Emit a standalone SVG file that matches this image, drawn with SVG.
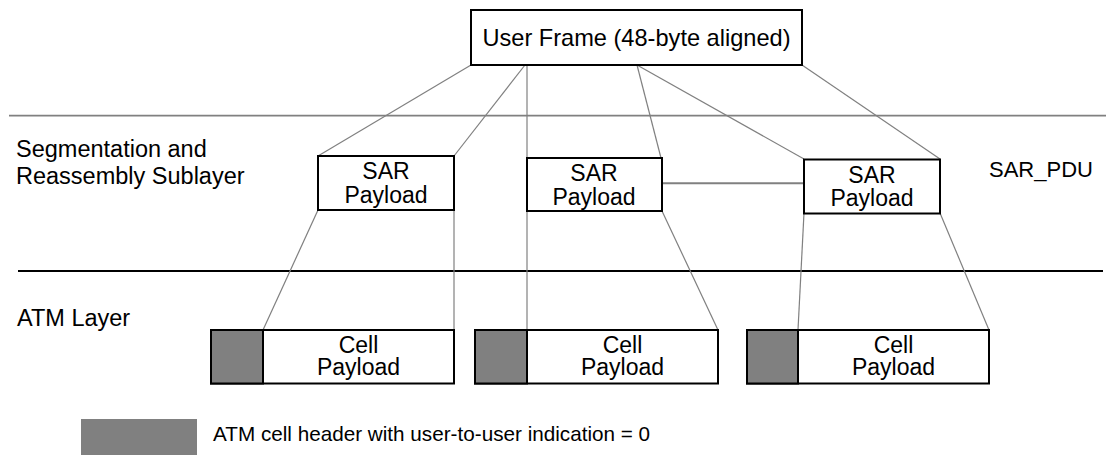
<svg xmlns="http://www.w3.org/2000/svg" width="1116" height="461" viewBox="0 0 1116 461">
<style>
text{font-family:"Liberation Sans",Arial,sans-serif;fill:#000;}
.lbl{font-size:23px;text-anchor:middle;}
.side{font-size:23.5px;}
.box{fill:#fff;stroke:#000;stroke-width:2;}
.hdr{fill:#808080;stroke:#000;stroke-width:2;}
.conn line{stroke:#808080;stroke-width:1.2;fill:none;}
</style>
<rect width="1116" height="461" fill="#fff"/>
<g id="layers">
<line x1="9" y1="115.7" x2="1106" y2="115.7" stroke="#808080" stroke-width="1.8"/>
<line x1="18" y1="271" x2="1103" y2="271" stroke="#000" stroke-width="2"/>
</g>
<g id="labels">
<text class="side" x="16" y="157">Segmentation and</text>
<text class="side" x="16" y="184">Reassembly Sublayer</text>
<text class="side" x="17" y="326">ATM Layer</text>
<text class="side" x="989" y="177" style="font-size:22px">SAR_PDU</text>
</g>
<g class="conn" id="connectors">
<line x1="471" y1="65" x2="318" y2="156"/>
<line x1="525" y1="65" x2="454" y2="156"/>
<line x1="527" y1="65" x2="527" y2="330"/>
<line x1="637" y1="65" x2="661" y2="158"/>
<line x1="637" y1="65" x2="804" y2="159"/>
<line x1="802" y1="65" x2="940" y2="159"/>
<line x1="318" y1="210" x2="263" y2="330"/>
<line x1="454" y1="210" x2="454" y2="330"/>
<line x1="662" y1="211" x2="718" y2="330"/>
<line x1="804" y1="213" x2="798" y2="330"/>
<line x1="940" y1="213" x2="989" y2="330"/>
<line x1="662" y1="183.3" x2="804" y2="183.3" style="stroke-width:2"/>
</g>
<g id="user-frame">
<rect class="box" x="471" y="10" width="331" height="55"/>
<text x="636.5" y="46" class="lbl" style="font-size:23.6px">User Frame (48-byte aligned)</text>
</g>
<g id="sar1">
<rect class="box" x="318" y="156" width="136" height="54"/>
<text class="lbl" x="386" y="179">SAR</text>
<text class="lbl" x="386" y="203">Payload</text>
</g>
<g id="sar2">
<rect class="box" x="527" y="158" width="135" height="53"/>
<text class="lbl" x="594" y="181">SAR</text>
<text class="lbl" x="594" y="205">Payload</text>
</g>
<g id="sar3">
<rect class="box" x="804" y="159.5" width="136" height="54"/>
<text class="lbl" x="872" y="183">SAR</text>
<text class="lbl" x="872" y="206">Payload</text>
</g>
<g id="cell1">
<rect class="box" x="211" y="330" width="243" height="53.5"/>
<rect class="hdr" x="211" y="330" width="52" height="53.5"/>
<text class="lbl" x="358.5" y="353">Cell</text>
<text class="lbl" x="358.5" y="375">Payload</text>
</g>
<g id="cell2">
<rect class="box" x="475" y="330" width="243" height="53.5"/>
<rect class="hdr" x="475" y="330" width="52" height="53.5"/>
<text class="lbl" x="622.5" y="353">Cell</text>
<text class="lbl" x="622.5" y="375">Payload</text>
</g>
<g id="cell3">
<rect class="box" x="747" y="330" width="242" height="53.5"/>
<rect class="hdr" x="747" y="330" width="51" height="53.5"/>
<text class="lbl" x="893.5" y="353">Cell</text>
<text class="lbl" x="893.5" y="375">Payload</text>
</g>
<g id="legend">
<rect x="81" y="419" width="116" height="36" fill="#808080"/>
<text x="213" y="441" style="font-size:20.7px">ATM cell header with user-to-user indication = 0</text>
</g>
</svg>
